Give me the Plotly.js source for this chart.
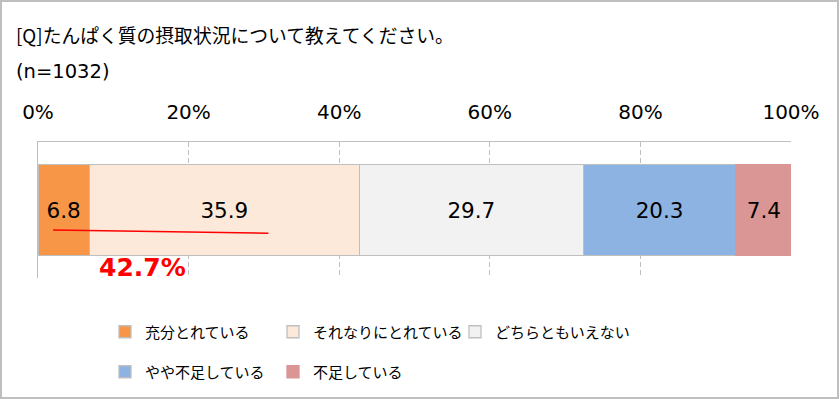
<!DOCTYPE html>
<html><head><meta charset="utf-8">
<script src="https://cdn.plot.ly/plotly-3.0.1.min.js"></script>
<style>
html,body{margin:0;padding:0;background:#fff;}
#wrap{position:relative;width:840px;height:399px;}
#chart{width:840px;height:399px;}
#frame{position:absolute;left:0;top:0;width:839px;height:399px;box-sizing:border-box;border:2px solid #bfbfbf;pointer-events:none;}
</style></head>
<body><div id="wrap"><div id="chart"></div><div id="frame"></div></div>
<script>
const categories = ["全体"];
const seriesNames = ["充分とれている","それなりにとれている","どちらともいえない","やや不足している","不足している"];
const seriesValues = [[6.8],[35.9],[29.7],[20.3],[7.4]];
const seriesColors = ["#F79646","#FDE9D9","#F2F2F2","#8DB3E2","#DA9694"];
const tickValues = [0,20,40,60,80,100];
const tickLabels = ["0%","20%","40%","60%","80%","100%"];
const highlightText = "42.7%";

const numFont = "DejaVu Sans, Noto Sans CJK JP, sans-serif";
const jpFont = "Noto Sans CJK JP, sans-serif";

const legendIds = ["legend","legend2","legend3","legend4","legend5"];
const legendPos = [[105,332],[273,332],[455,332],[105,372],[273,372]];

const traces = seriesNames.map((name,i)=>({
  type:"bar", orientation:"h", name:name,
  y:categories, x:seriesValues[i],
  text:seriesValues[i].map(v=>v.toFixed(1)),
  textposition:"inside", insidetextanchor:"middle", textangle:0,
  constraintext:"none",
  textfont:{family:numFont,size:21.5,color:"#000"},
  marker:{color:seriesColors[i],line:{color:i===4?"#DA9694":"#bfbfbf",width:1.3}},
  width:0.673,
  hoverinfo:"skip",
  legend: legendIds[i]
}));

const layout = {
  width:840, height:399,
  margin:{l:38,r:49,t:142,b:121,pad:0},
  paper_bgcolor:"#fff", plot_bgcolor:"#fff",
  barmode:"stack", bargap:0,
  showlegend:true,
  xaxis:{range:[0,100], side:"top", tickvals:tickValues, ticktext:tickLabels,
    showgrid:true, gridcolor:"#bfbfbf", gridwidth:1, griddash:"5px,3px",
    showline:true, linecolor:"#bfbfbf", linewidth:1.3, zeroline:false,
    ticks:"", ticklabelstandoff:14, fixedrange:true,
    tickfont:{family:numFont,size:20,color:"#000"}},
  yaxis:{range:[-0.5,0.5], showticklabels:false, showgrid:false, zeroline:false,
    showline:true, linecolor:"#bfbfbf", linewidth:1.3, ticks:"", fixedrange:true},
  annotations:[
    {xref:"paper", yref:"paper", x:-24/753, y:(278-35)/136, xanchor:"left", yanchor:"middle",
      text:"[Q]たんぱく質の摂取状況について教えてください。", showarrow:false,
      font:{family:jpFont,size:18.8,color:"#000"}},
    {xref:"paper", yref:"paper", x:-24/753, y:(278-71.5)/136, xanchor:"left", yanchor:"middle",
      text:"(n=1032)", showarrow:false,
      font:{family:numFont,size:19.5,color:"#000"}},
    {xref:"x", yref:"paper", x:13.9, y:(278-267)/136, xanchor:"center", yanchor:"middle",
      text:highlightText, showarrow:false,
      font:{family:numFont,size:25,color:"#FF0000",weight:"bold"}}
  ],
  shapes:[
    {type:"line", xref:"x", yref:"paper", x0:2.0, x1:30.6, y0:(278-230)/136, y1:(278-233.3)/136,
      line:{color:"#FF0000",width:1.5}}
  ]
};
legendIds.forEach((id,i)=>{
  layout[id] = {orientation:"h", xref:"container", yref:"container",
    x:legendPos[i][0]/840, y:1-legendPos[i][1]/399,
    xanchor:"left", yanchor:"middle",
    font:{family:jpFont,size:15,color:"#000"}, bgcolor:"rgba(0,0,0,0)"};
});
Plotly.newPlot("chart", traces, layout, {displayModeBar:false, staticPlot:true});
</script></body></html>
